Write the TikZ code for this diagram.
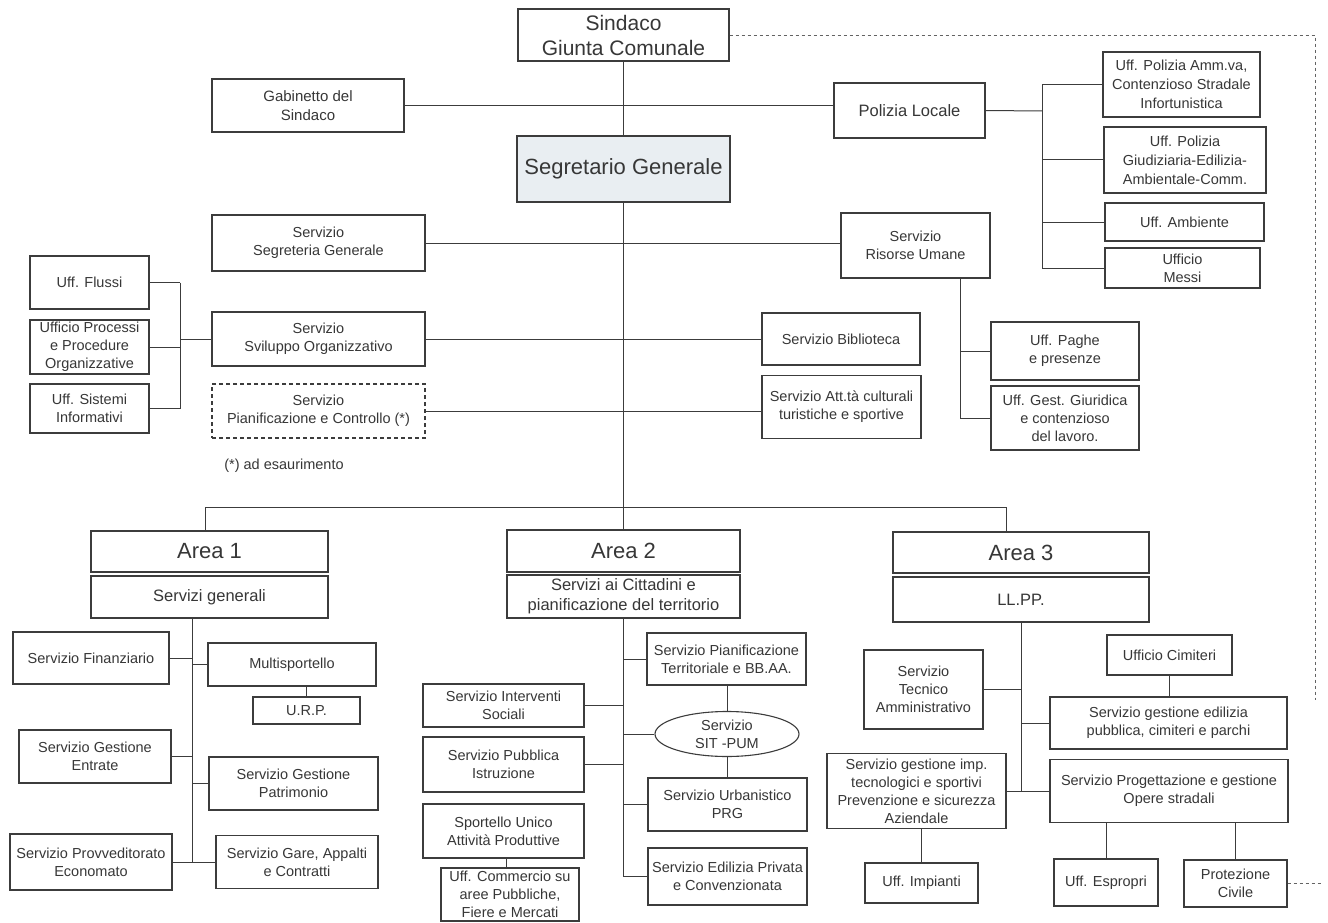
\documentclass[tikz,border=0pt]{standalone}
\usepackage{fontspec}
\setmainfont{Liberation Sans}
\usetikzlibrary{shapes.geometric}

\definecolor{linec}{RGB}{60,60,60}
\definecolor{textc}{RGB}{55,55,55}
\definecolor{segfill}{RGB}{233,238,242}

\newcommand\FSmall{\fontsize{14.5}{18}\selectfont}
\newcommand\FMid{\fontsize{16.5}{20}\selectfont}
\newcommand\FBig{\fontsize{21}{25}\selectfont}
\newcommand\FArea{\fontsize{22}{26}\selectfont}

\tikzset{
  box/.style={draw=linec, line width=1.1pt, fill=white, align=center,
    inner sep=1pt, text=textc, font=\FSmall},
  sz/.style 2 args={minimum width=#1pt, minimum height=#2pt},
  conn/.style={draw=linec, line width=1pt},
  dotconn/.style={draw=linec!80, line width=0.9pt, dash pattern=on 3pt off 3pt},
}

\begin{document}
\begin{tikzpicture}[x=1pt, y=-1pt]
\useasboundingbox[fill=white] (0,0) rectangle (1328,923);

% ---- top level ----
\node[box, sz={211}{52}, font=\FBig] (sindaco) at (623.5,35) {Sindaco\\Giunta Comunale};
\node[box, sz={192}{53}, font=\fontsize{15}{19}\selectfont] (gab) at (308,105.5) {Gabinetto del\\Sindaco};
\node[box, sz={151}{55}, font=\FMid] (pol) at (909.5,110.5) {Polizia Locale};
\node[box, sz={213}{66}, fill=segfill, font=\fontsize{22}{26}\selectfont] (seg) at (623.5,169) {Segretario Generale};

% ---- Polizia Locale offices ----
\node[box, sz={157}{65}, font=\fontsize{14.5}{19}\selectfont] (p1) at (1181.5,84.5) {Uff. Polizia Amm.va,\\Contenzioso  Stradale\\Infortunistica};
\node[box, sz={162}{66}, font=\fontsize{14.5}{19}\selectfont] (p2) at (1185,160) {Uff. Polizia\\Giudiziaria-Edilizia-\\Ambientale-Comm.};
\node[box, sz={159}{38}] (p3) at (1184.5,222) {Uff. Ambiente};
\node[box, sz={155}{40}] (p4) at (1182.5,268) {Ufficio\\Messi};

% ---- staff services ----
\node[box, sz={213}{56}] (segr) at (318.5,243) {Servizio\\Segreteria Generale};
\node[box, sz={149}{65}] (ris) at (915.5,245.5) {Servizio\\Risorse Umane};
\node[box, sz={213}{54}] (svil) at (318.5,339) {Servizio\\Sviluppo Organizzativo};
\node[box, sz={213}{54}, dashed, dash pattern=on 4pt off 3pt] (pian) at (318.5,411) {Servizio\\Pianificazione e Controllo (*)};
\node[box, sz={158}{52}] (bib) at (841,339) {Servizio Biblioteca};
\node[box, sz={159}{63}] (att) at (841.5,407) {Servizio Att.tà culturali\\turistiche e sportive};
\node[text=textc, font=\FSmall] (foot) at (284,466) {(*) ad esaurimento};

\node[box, sz={119}{53}] (flussi) at (89.5,282.5) {Uff. Flussi};
\node[box, sz={119}{54}] (proc) at (89.5,347) {Ufficio Processi\\e Procedure\\Organizzative};
\node[box, sz={119}{49}] (sist) at (89.5,408.5) {Uff. Sistemi\\Informativi};

\node[box, sz={148}{58}] (paghe) at (1065,351) {Uff. Paghe\\e presenze};
\node[box, sz={148}{64}] (giur) at (1065,418) {Uff. Gest. Giuridica\\e contenzioso\\del lavoro.};

% ---- Area 1 ----
\node[box, sz={237}{41}, font=\FArea] (a1) at (209.5,551.5) {Area 1};
\node[box, sz={237}{42}, font=\FMid] (a1s) at (209.5,597) {Servizi generali};
\node[box, sz={156}{52}] (fin) at (91,658) {Servizio Finanziario};
\node[box, sz={168}{43}] (multi) at (292,664.5) {Multisportello};
\node[box, sz={107}{27}] (urp) at (306.5,710.5) {U.R.P.};
\node[box, sz={152}{53}] (entr) at (95,756.5) {Servizio Gestione\\Entrate};
\node[box, sz={169}{53}] (patr) at (293.5,783.5) {Servizio Gestione\\Patrimonio};
\node[box, sz={162}{56}] (prov) at (91,862) {Servizio Provveditorato\\Economato};
\node[box, sz={162}{53}] (gare) at (297,862) {Servizio Gare, Appalti\\e Contratti};

% ---- Area 2 ----
\node[box, sz={233}{42}, font=\FArea] (a2) at (623.5,551) {Area 2};
\node[box, sz={233}{43}, font=\FMid] (a2s) at (623.5,596.5) {Servizi ai Cittadini e\\pianificazione del territorio};
\node[box, sz={159}{52}] (pter) at (726.5,659) {Servizio Pianificazione\\Territoriale e BB.AA.};
\node[box, sz={161}{43}] (soc) at (503.5,705.5) {Servizio Interventi\\Sociali};
\node[box, ellipse, sz={144}{45}, inner sep=0pt] (sit) at (727,734) {Servizio\\SIT -PUM};
\node[box, sz={161}{55}] (istr) at (503.5,764.5) {Servizio Pubblica\\Istruzione};
\node[box, sz={159}{53}] (prg) at (727.5,804.5) {Servizio Urbanistico\\PRG};
\node[box, sz={161}{54}] (spor) at (503.5,831) {Sportello Unico\\Attività Produttive};
\node[box, sz={138}{53}] (comm) at (510,894.5) {Uff. Commercio  su\\aree Pubbliche,\\Fiere e Mercati};
\node[box, sz={159}{57}] (edil) at (727.5,876.5) {Servizio Edilizia Privata\\e Convenzionata};

% ---- Area 3 ----
\node[box, sz={256}{41}, font=\FArea] (a3) at (1021,552.5) {Area 3};
\node[box, sz={256}{45}, font=\FMid] (a3s) at (1021,599.5) {LL.PP.};
\node[box, sz={125}{40}] (cim) at (1169.5,655) {Ufficio Cimiteri};
\node[box, sz={119}{79}] (tec) at (923.5,689.5) {Servizio\\Tecnico\\Amministrativo};
\node[box, sz={237}{52}] (ged) at (1168.5,723) {Servizio  gestione edilizia\\pubblica,  cimiteri e parchi};
\node[box, sz={179}{75}] (gimp) at (916.5,791) {Servizio gestione imp.\\tecnologici e sportivi\\Prevenzione e sicurezza\\Aziendale};
\node[box, sz={238}{63}] (prog) at (1169,791) {Servizio Progettazione e gestione\\Opere stradali};
\node[box, sz={113}{40}] (imp) at (921.5,883) {Uff. Impianti};
\node[box, sz={104}{47}] (esp) at (1106,882.5) {Uff. Espropri};
\node[box, sz={103}{47}] (prot) at (1235.5,883.5) {Protezione\\Civile};

% ---- bus coordinates ----
\coordinate (pbus) at (1042,111);
\coordinate (lbus) at (180,0);
\coordinate (rbus) at (960,0);
\coordinate (hl) at (205,507);
\coordinate (hr) at (1006,507);
\coordinate (b1) at (192,0);
\coordinate (dcol) at (1315,0);
\coordinate (dend) at (1315,700);
\coordinate (dstub) at (1322,883.5);

% ---- connectors: top ----
\draw[conn] (sindaco.south) -- (seg.north);
\draw[conn] (gab.east) -- (gab.east -| pol.west);
\draw[conn] (seg.south) -- (a2.north);
\draw[conn] (hl |- a1.north) -- (hl) -- (hr) -- (hr |- a3.north);

% Polizia Locale offices
\draw[conn] (pol.east) -- (pbus);
\draw[conn] (pbus |- p1.west) -- (pbus |- p4.west);
\foreach \n in {p1,p2,p3,p4} \draw[conn] (\n.west) -- (\n.west -| pbus);

% staff services
\draw[conn] (segr.east) -- (segr.east -| ris.west);
\draw[conn] (svil.east) -- (svil.east -| bib.west);
\draw[conn] (pian.east) -- (pian.east -| att.west);

% Sviluppo Organizzativo offices
\foreach \n in {flussi,proc,sist} \draw[conn] (\n.east) -- (\n.east -| lbus);
\draw[conn] (lbus |- flussi.east) -- (lbus |- sist.east);
\draw[conn] (lbus |- svil.west) -- (svil.west);

% Risorse Umane offices
\draw[conn] (rbus |- ris.south) -- (rbus |- giur.west);
\foreach \n in {paghe,giur} \draw[conn] (\n.west) -- (\n.west -| rbus);

% Area 1
\draw[conn] (b1 |- a1s.south) -- (b1 |- gare.west);
\foreach \n in {fin,entr,prov} \draw[conn] (\n.east) -- (\n.east -| b1);
\foreach \n in {multi,patr,gare} \draw[conn] (\n.west) -- (\n.west -| b1);
\draw[conn] (urp.north) -- (urp.north |- multi.south);

% Area 2
\draw[conn] (a2s.south) -- (a2s.south |- edil.west);
\foreach \n in {soc,istr} \draw[conn] (\n.east) -- (\n.east -| a2s.south);
\foreach \n in {pter,sit,prg,edil} \draw[conn] (\n.west) -- (\n.west -| a2s.south);
\draw[conn] (sit.north) -- (sit.north |- pter.south);
\draw[conn] (sit.south) -- (sit.south |- prg.north);
\draw[conn] (comm.north -| 506,0) -- (spor.south -| 506,0);

% Area 3
\draw[conn] (a3s.south) -- (a3s.south |- prog.west);
\foreach \n in {tec,gimp} \draw[conn] (\n.east) -- (\n.east -| a3s.south);
\foreach \n in {ged,prog} \draw[conn] (\n.west) -- (\n.west -| a3s.south);
\draw[conn] (cim.south) -- (cim.south |- ged.north);
\draw[conn] (imp.north) -- (imp.north |- gimp.south);
\draw[conn] (esp.north) -- (esp.north |- prog.south);
\draw[conn] (prot.north) -- (prot.north |- prog.south);

% dotted link from the Sindaco
\draw[dotconn] (sindaco.east) -- (sindaco.east -| dcol) -- (dend);
\draw[dotconn] (prot.east) -- (dstub);
\end{tikzpicture}
\end{document}
